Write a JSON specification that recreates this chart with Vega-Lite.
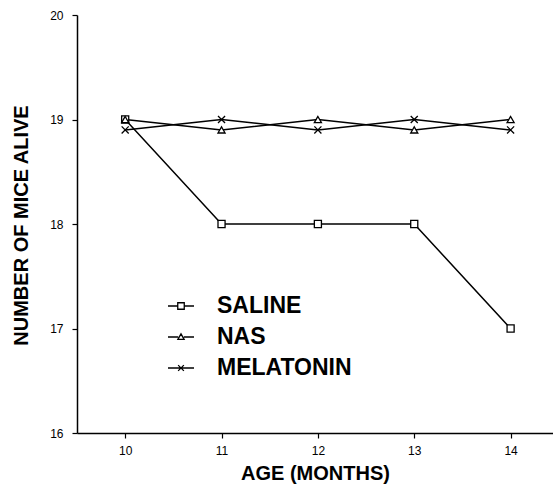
{
  "$schema": "https://vega.github.io/schema/vega-lite/v6.json",
  "autosize": "none",
  "width": 476,
  "height": 418,
  "padding": {"left": 77, "top": 15, "right": 0, "bottom": 56},
  "background": "white",
  "config": {
    "view": {"stroke": null},
    "font": "Liberation Sans",
    "axis": {
      "domainColor": "black", "domainWidth": 1.5, "tickColor": "black", "tickWidth": 1.2, "tickSize": 5,
      "labelColor": "black", "labelFont": "Liberation Sans", "labelFontSize": 12,
      "titleColor": "black", "titleFont": "Liberation Sans", "titleFontSize": 20, "titleFontWeight": "bold",
      "grid": false
    }
  },
  "data": {"values": [
    {"age": 10, "mice": 19, "group": "SALINE"},
    {"age": 11, "mice": 18, "group": "SALINE"},
    {"age": 12, "mice": 18, "group": "SALINE"},
    {"age": 13, "mice": 18, "group": "SALINE"},
    {"age": 14, "mice": 17, "group": "SALINE"},
    {"age": 10, "mice": 19, "group": "NAS"},
    {"age": 11, "mice": 18.9, "group": "NAS"},
    {"age": 12, "mice": 19, "group": "NAS"},
    {"age": 13, "mice": 18.9, "group": "NAS"},
    {"age": 14, "mice": 19, "group": "NAS"},
    {"age": 10, "mice": 18.9, "group": "MELATONIN"},
    {"age": 11, "mice": 19, "group": "MELATONIN"},
    {"age": 12, "mice": 18.9, "group": "MELATONIN"},
    {"age": 13, "mice": 19, "group": "MELATONIN"},
    {"age": 14, "mice": 18.9, "group": "MELATONIN"}
  ]},
  "encoding": {
    "x": {"field": "age", "type": "quantitative",
      "scale": {"domain": [9.5, 14.44], "nice": false, "zero": false},
      "axis": {"title": "AGE (MONTHS)", "values": [10, 10.5, 11, 11.5, 12, 12.5, 13, 13.5, 14],
        "format": "d", "labelExpr": "datum.value % 1 === 0 ? datum.label : ''", "labelPadding": 7,
        "titleX": 238, "titleY": 46, "titleBaseline": "alphabetic"}},
    "y": {"field": "mice", "type": "quantitative",
      "scale": {"domain": [16, 20], "nice": false, "zero": false},
      "axis": {"title": "NUMBER OF MICE ALIVE", "values": [16, 16.5, 17, 17.5, 18, 18.5, 19, 19.5, 20],
        "format": "d", "labelExpr": "datum.value % 1 === 0 ? datum.label : ''", "labelPadding": 9,
        "titleX": -50, "titleY": 210, "titleBaseline": "alphabetic"}}
  },
  "layer": [
    {
      "mark": {"type": "line", "color": "black", "strokeWidth": 1.5},
      "encoding": {"detail": {"field": "group"}}
    },
    {
      "mark": {"type": "point", "filled": false, "fill": "white", "fillOpacity": 1, "stroke": "black", "strokeWidth": 1.3, "opacity": 1},
      "encoding": {
        "shape": {"field": "group", "type": "nominal",
          "scale": {"domain": ["SALINE", "NAS", "MELATONIN"], "range": ["square", "triangle-up", "M-1,-1L1,1M-1,1L1,-1"]},
          "legend": null},
        "size": {"value": 50}
      }
    },
    {
      "transform": [{"filter": "datum.age > 100"}],
      "mark": {"type": "point", "filled": false, "stroke": "black", "strokeWidth": 1.3, "opacity": 1},
      "encoding": {
        "shape": {"field": "group", "type": "nominal",
          "scale": {"domain": ["SALINE", "NAS", "MELATONIN"],
            "range": ["M-1,0H-0.25M0.25,0H1M-0.25,-0.25H0.25V0.25H-0.25Z", "M-1,0H-0.22M0.22,0H1M0,-0.24L0.24,0.18H-0.24Z", "M-1,0H1M-0.22,-0.22L0.22,0.22M-0.22,0.22L0.22,-0.22"]},
          "legend": {
            "title": null, "orient": "none", "legendX": 90, "legendY": 277,
            "symbolSize": 676, "symbolStrokeColor": "black", "symbolStrokeWidth": 1.3,
            "labelFont": "Liberation Sans", "labelFontSize": 23, "labelFontWeight": "bold", "labelColor": "black",
            "labelOffset": 22, "rowPadding": 5
          }}
      }
    }
  ],
  "resolve": {"scale": {"shape": "independent"}, "legend": {"shape": "independent"}}
}
